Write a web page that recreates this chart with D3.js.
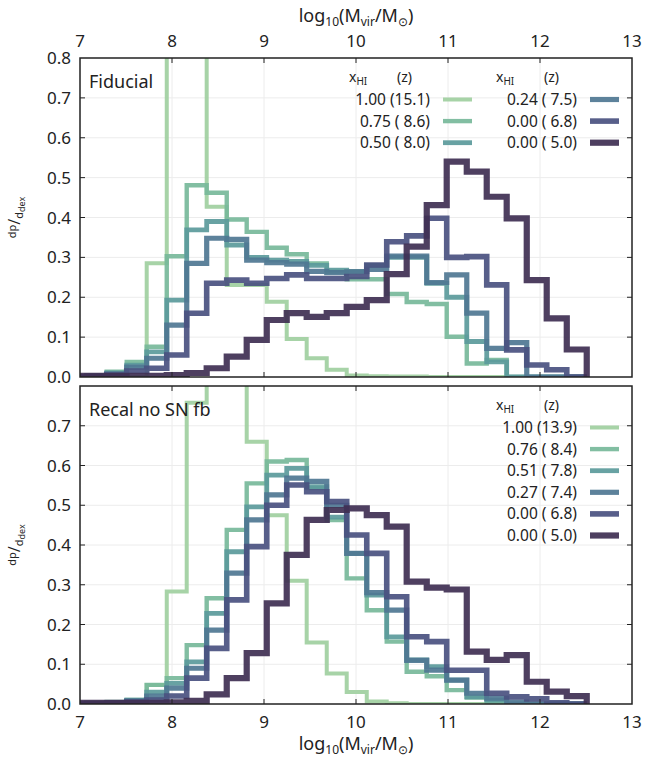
<!DOCTYPE html>
<html>
<head>
<meta charset="utf-8">
<script src="https://cdn.jsdelivr.net/npm/d3@7"></script>
<style>
  body { margin: 0; background: #fff; }
  svg { display: block; }
  text { font-family: "Noto Sans", "Open Sans", sans-serif; fill: #222; }
</style>
</head>
<body>
<svg id="chart" width="661" height="760"></svg>
<script>
// Histogram bin edges in log10(Mvir/Msun)
const binEdges = [6.855, 7.073, 7.290, 7.508, 7.725, 7.943, 8.160, 8.377, 8.595, 8.812,
  9.030, 9.247, 9.464, 9.682, 9.899, 10.117, 10.334, 10.551, 10.769, 10.986,
  11.204, 11.421, 11.638, 11.856, 12.073, 12.291, 12.508];

const xTicks = [7, 8, 9, 10, 11, 12, 13];
const yTicksTop = [0, 0.1, 0.2, 0.3, 0.4, 0.5, 0.6, 0.7, 0.8];
const yTicksBottom = [0, 0.1, 0.2, 0.3, 0.4, 0.5, 0.6, 0.7];

const seriesColors = ["#9fcf9f", "#77b99a", "#5b9a9b", "#4f7793", "#4a5180", "#3f2f52"];
const seriesWidths = [4, 4.4, 4.8, 5.2, 5.6, 6.2];

const fiducialLabels = ["1.00 (15.1)", "0.75 ( 8.6)", "0.50 ( 8.0)", "0.24 ( 7.5)", "0.00 ( 6.8)", "0.00 ( 5.0)"];
const recalLabels = ["1.00 (13.9)", "0.76 ( 8.4)", "0.51 ( 7.8)", "0.27 ( 7.4)", "0.00 ( 6.8)", "0.00 ( 5.0)"];

// Fiducial run: dp/ddex per bin
const fid100 = [0, 0, 0, 0, 0.285, 1.4, 1.1, 0.427, 0.231, 0.231, 0.189, 0.095, 0.047, 0.018, 0.004, 0.002, 0.001, 0.001, 0, 0, 0, 0, 0, 0, 0, 0];
const fid075 = [0, 0.003, 0.013, 0.038, 0.076, 0.303, 0.481, 0.462, 0.395, 0.364, 0.324, 0.308, 0.285, 0.264, 0.245, 0.245, 0.208, 0.188, 0.183, 0.101, 0.034, 0.043, 0, 0, 0, 0];
const fid050 = [0, 0.002, 0.01, 0.03, 0.063, 0.193, 0.369, 0.39, 0.331, 0.30, 0.293, 0.29, 0.28, 0.268, 0.265, 0.28, 0.30, 0.30, 0.235, 0.20, 0.089, 0.038, 0, 0, 0, 0];
const fid024 = [0, 0.002, 0.008, 0.025, 0.047, 0.13, 0.285, 0.348, 0.345, 0.293, 0.287, 0.283, 0.265, 0.262, 0.264, 0.27, 0.303, 0.303, 0.237, 0.256, 0.16, 0.072, 0.086, 0, 0, 0];
const fid000a = [0, 0.001, 0.005, 0.015, 0.022, 0.055, 0.16, 0.235, 0.243, 0.235, 0.247, 0.256, 0.247, 0.247, 0.252, 0.281, 0.339, 0.354, 0.398, 0.30, 0.302, 0.231, 0.068, 0.03, 0.018, 0];
const fid000b = [0.003, 0.003, 0.003, 0.003, 0.003, 0.005, 0.01, 0.022, 0.051, 0.093, 0.143, 0.16, 0.151, 0.16, 0.176, 0.193, 0.258, 0.327, 0.431, 0.54, 0.515, 0.452, 0.398, 0.243, 0.147, 0.069];

// Recal run without supernova feedback
const rec100 = [0, 0, 0, 0.008, 0.048, 0.283, 0.758, 1.3, 1.1, 0.66, 0.475, 0.31, 0.155, 0.077, 0.03, 0.006, 0.002, 0, 0, 0, 0, 0, 0, 0, 0, 0];
const rec076 = [0, 0.002, 0.005, 0.01, 0.048, 0.065, 0.148, 0.266, 0.438, 0.555, 0.61, 0.614, 0.543, 0.463, 0.316, 0.236, 0.157, 0.081, 0.07, 0.035, 0.016, 0.005, 0, 0, 0, 0];
const rec051 = [0, 0.002, 0.004, 0.01, 0.03, 0.052, 0.106, 0.228, 0.383, 0.496, 0.576, 0.593, 0.547, 0.47, 0.379, 0.274, 0.169, 0.111, 0.094, 0.06, 0.018, 0.01, 0, 0, 0, 0];
const rec027 = [0, 0.001, 0.003, 0.008, 0.02, 0.04, 0.09, 0.186, 0.329, 0.463, 0.526, 0.568, 0.56, 0.5, 0.379, 0.28, 0.236, 0.11, 0.085, 0.06, 0.027, 0.015, 0.005, 0, 0, 0];
const rec000a = [0, 0.001, 0.002, 0.005, 0.01, 0.02, 0.065, 0.14, 0.262, 0.396, 0.5, 0.551, 0.534, 0.509, 0.425, 0.379, 0.27, 0.169, 0.157, 0.085, 0.085, 0.027, 0.018, 0.013, 0.003, 0];
const rec000b = [0.003, 0.003, 0.003, 0.003, 0.003, 0.004, 0.008, 0.024, 0.065, 0.128, 0.253, 0.375, 0.463, 0.488, 0.492, 0.475, 0.446, 0.308, 0.293, 0.288, 0.132, 0.111, 0.123, 0.056, 0.031, 0.02];

const fiducialSeries = [fid100, fid075, fid050, fid024, fid000a, fid000b];
const recalSeries = [rec100, rec076, rec051, rec027, rec000a, rec000b];

const svg = d3.select("#chart");
const left = 80, right = 632;
const x = d3.scaleLinear().domain([7, 13]).range([left, right]);

const panels = [
  { name: "top", top: 58, bottom: 377, title: "Fiducial", series: fiducialSeries, labels: fiducialLabels, yTicks: yTicksTop, topLabels: true },
  { name: "bottom", top: 386, bottom: 704, title: "Recal no SN fb", series: recalSeries, labels: recalLabels, yTicks: yTicksBottom, topLabels: false }
];

function stepPoints(values) {
  const pts = [[binEdges[0], 0]];
  values.forEach((v, i) => {
    pts.push([binEdges[i], v]);
    pts.push([binEdges[i + 1], v]);
  });
  pts.push([binEdges[binEdges.length - 1], 0]);
  return pts;
}

function xAxisTitle(g, cx, cy) {
  const t = g.append("text").attr("x", cx).attr("y", cy).attr("text-anchor", "middle").style("font-size", "18px");
  t.append("tspan").text("log");
  t.append("tspan").attr("dy", 3.5).style("font-size", "12px").text("10");
  t.append("tspan").attr("dy", -3.5).text("(M");
  t.append("tspan").attr("dy", 3.5).style("font-size", "12px").text("vir");
  t.append("tspan").attr("dy", -3.5).text("/M");
  t.append("tspan").attr("dy", 3.5).style("font-size", "12px").text("\u2299");
  t.append("tspan").attr("dy", -3.5).text(")");
}

function yAxisTitle(g, cx, cy) {
  const t = g.append("text").attr("transform", `translate(${cx},${cy}) rotate(-90)`)
    .attr("text-anchor", "middle").style("font-size", "14px");
  t.append("tspan").attr("dy", -4).style("font-size", "11px").text("dp");
  t.append("tspan").attr("dy", 4).style("font-size", "16px").text("/");
  t.append("tspan").attr("dy", 3).style("font-size", "11px").text("d");
  t.append("tspan").attr("dy", 2).style("font-size", "9px").text("dex");
}

panels.forEach((p) => {
  const y = d3.scaleLinear().domain([0, 0.8]).range([p.bottom, p.top]);
  const g = svg.append("g");
  const clipId = "clip-" + p.name;
  svg.append("clipPath").attr("id", clipId).append("rect")
    .attr("x", left).attr("y", p.top).attr("width", right - left).attr("height", p.bottom - p.top);

  // grid
  g.selectAll(".gx").data(xTicks.slice(1, -1)).join("line")
    .attr("x1", d => x(d)).attr("x2", d => x(d)).attr("y1", p.top).attr("y2", p.bottom)
    .attr("stroke", "#ececec").attr("stroke-width", 1);
  g.selectAll(".gy").data(yTicksTop.slice(1, -1)).join("line")
    .attr("y1", d => y(d)).attr("y2", d => y(d)).attr("x1", left).attr("x2", right)
    .attr("stroke", "#ececec").attr("stroke-width", 1);

  // histograms
  const line = d3.line().x(d => x(d[0])).y(d => y(d[1]));
  const hg = g.append("g").attr("clip-path", `url(#${clipId})`);
  p.series.forEach((vals, i) => {
    hg.append("path").attr("d", line(stepPoints(vals)))
      .attr("fill", "none").attr("stroke", seriesColors[i])
      .attr("stroke-width", seriesWidths[i]).attr("stroke-opacity", 0.92)
      .attr("stroke-linejoin", "miter").attr("stroke-linecap", "butt");
  });

  // ticks (inward, all sides)
  const tk = g.append("g").attr("stroke", "#222").attr("stroke-width", 1);
  xTicks.slice(1, -1).forEach(d => {
    tk.append("line").attr("x1", x(d)).attr("x2", x(d)).attr("y1", p.bottom).attr("y2", p.bottom - 5);
    tk.append("line").attr("x1", x(d)).attr("x2", x(d)).attr("y1", p.top).attr("y2", p.top + 5);
  });
  yTicksTop.slice(1, -1).forEach(d => {
    tk.append("line").attr("y1", y(d)).attr("y2", y(d)).attr("x1", left).attr("x2", left + 5);
    tk.append("line").attr("y1", y(d)).attr("y2", y(d)).attr("x1", right).attr("x2", right - 5);
  });

  // frame
  g.append("rect").attr("x", left).attr("y", p.top).attr("width", right - left).attr("height", p.bottom - p.top)
    .attr("fill", "none").attr("stroke", "#222").attr("stroke-width", 1.5);

  // y tick labels
  g.selectAll(".yl").data(p.yTicks).join("text")
    .attr("x", 71).attr("y", d => y(d) + 6).attr("text-anchor", "end")
    .style("font-size", "17px").text(d => d.toFixed(1));

  // x tick labels
  const xlY = p.topLabels ? p.top - 11 : p.bottom + 24;
  g.selectAll(".xl").data(xTicks).join("text")
    .attr("x", d => x(d)).attr("y", xlY).attr("text-anchor", "middle")
    .style("font-size", "17px").text(d => d);

  if (p.topLabels) xAxisTitle(g, (left + right) / 2, 22);
  else xAxisTitle(g, (left + right) / 2, 750);

  yAxisTitle(g, 20, (p.top + p.bottom) / 2);

  // panel title
  g.append("text").attr("x", 89).attr("y", p.top + 30).style("font-size", "18px").text(p.title);

  // legend
  const lg = g.append("g");
  const cols = p.name === "top"
    ? [{ items: [0, 1, 2], textRight: 430, swatchX: 443, headX: 349, zX: 397 },
       { items: [3, 4, 5], textRight: 577, swatchX: 590, headX: 496, zX: 544 }]
    : [{ items: [0, 1, 2, 3, 4, 5], textRight: 577, swatchX: 590, headX: 496, zX: 544 }];
  const headY = p.top + 24;
  const rowY0 = p.top + 41.5, rowGap = 21.6;
  cols.forEach(c => {
    const h = lg.append("text").attr("x", c.headX).attr("y", headY).style("font-size", "14px");
    h.append("tspan").text("x");
    h.append("tspan").attr("dy", 3).style("font-size", "10px").text("HI");
    lg.append("text").attr("x", c.zX).attr("y", headY).style("font-size", "14px").text("(z)");
    c.items.forEach((si, r) => {
      const ry = rowY0 + r * rowGap;
      lg.append("text").attr("x", c.textRight).attr("y", ry + 5.5).attr("text-anchor", "end")
        .style("font-size", "15.5px").style("white-space", "pre").attr("xml:space", "preserve")
        .text(p.labels[si]);
      lg.append("line").attr("x1", c.swatchX).attr("x2", c.swatchX + 29).attr("y1", ry).attr("y2", ry)
        .attr("stroke", seriesColors[si]).attr("stroke-width", seriesWidths[si]).attr("stroke-opacity", 0.92);
    });
  });
});
</script>
</body>
</html>
